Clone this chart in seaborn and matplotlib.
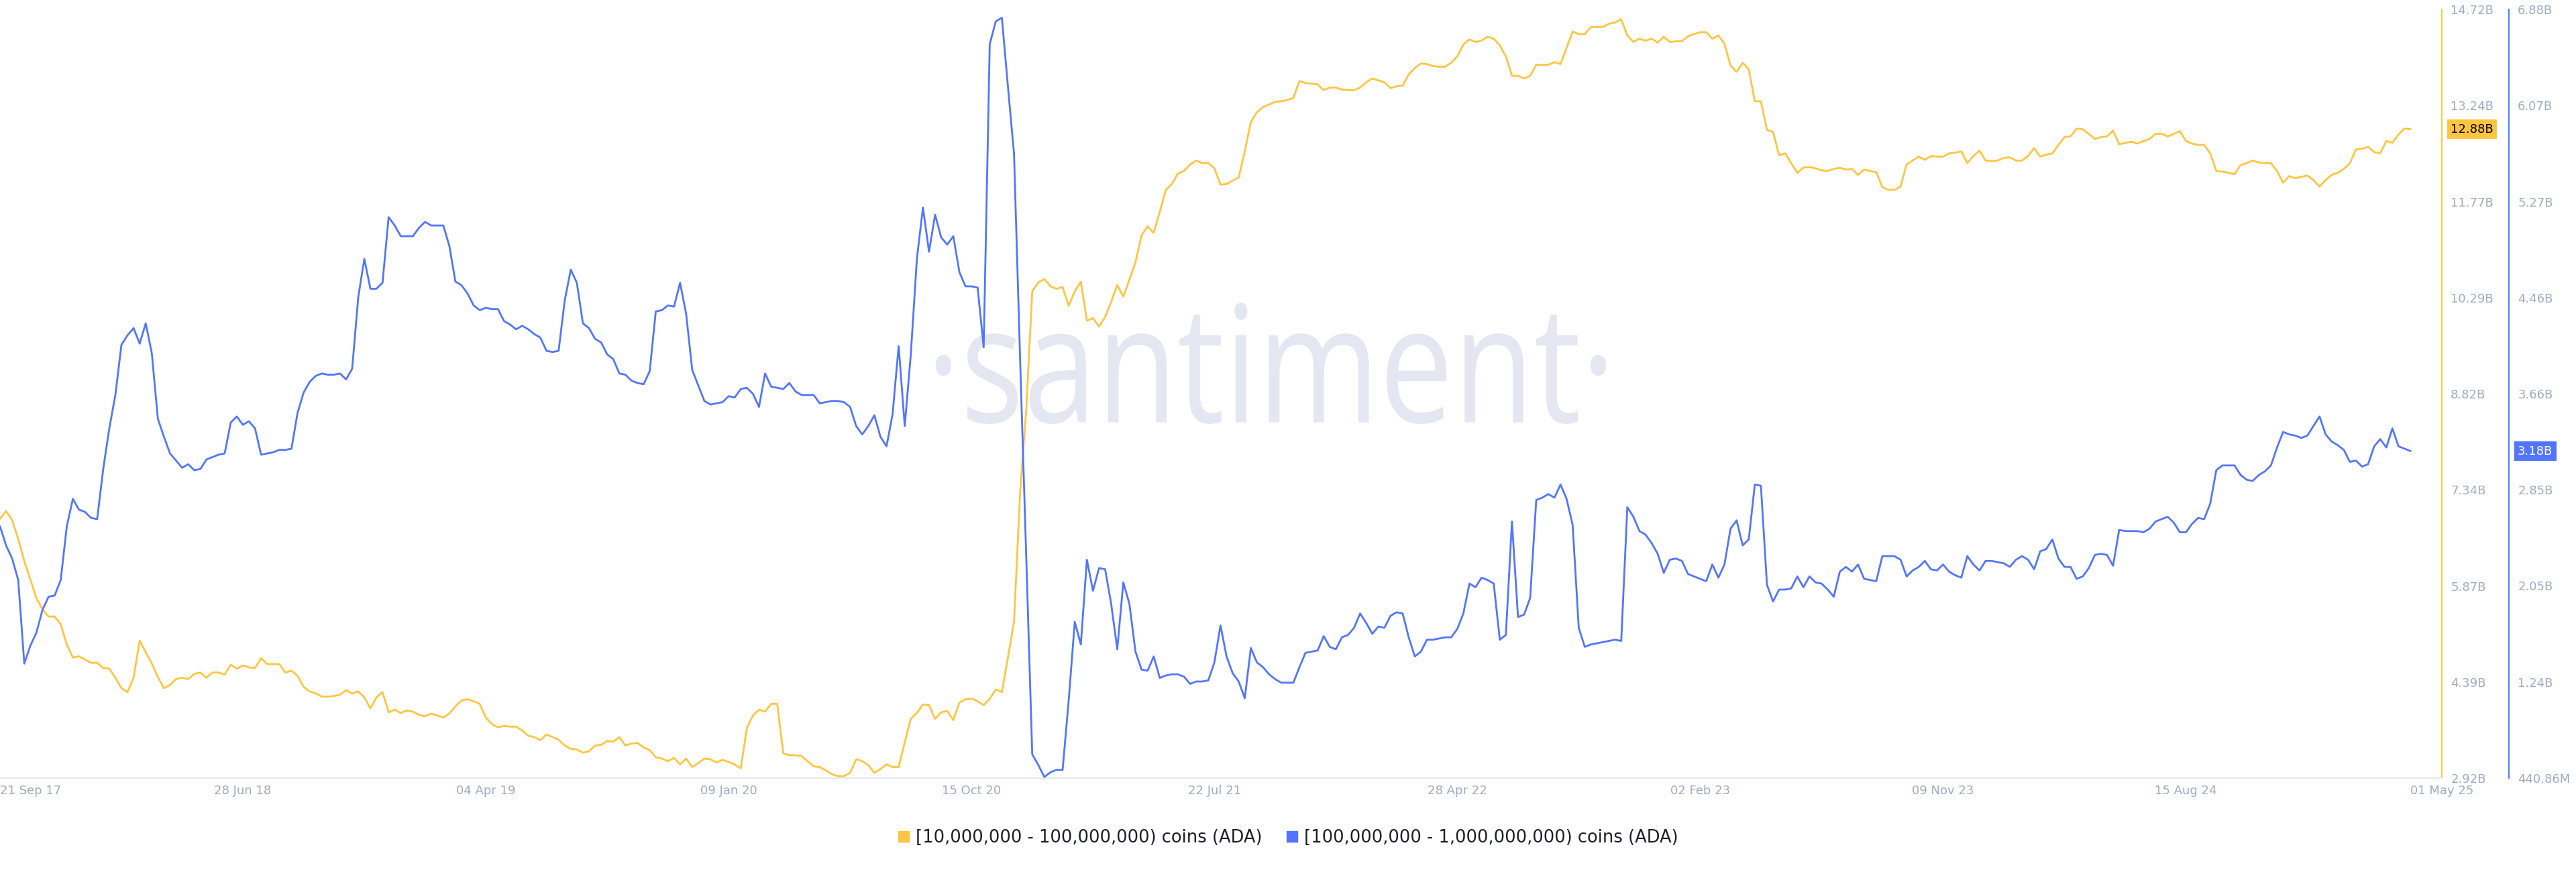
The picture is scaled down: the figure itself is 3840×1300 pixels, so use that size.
# ADA supply distribution - two holder cohorts (weekly)
import pandas as pd
import numpy as np
import matplotlib
matplotlib.use("Agg")
import matplotlib.pyplot as plt
import matplotlib.transforms as mtransforms
from matplotlib.lines import Line2D
from matplotlib.textpath import TextPath
from matplotlib.patches import PathPatch
from matplotlib.font_manager import FontProperties
import seaborn as sns

# data (billions of ADA, one value per week from 21 Sep 2017)
start_date = "2017-09-21"
view_end = "2025-06-06"

yellow_label = "[10,000,000 - 100,000,000) coins (ADA)"
blue_label = "[100,000,000 - 1,000,000,000) coins (ADA)"

yellow_vals = [
    6.90, 7.02, 6.88, 6.59, 6.25, 5.97, 5.68, 5.51, 5.40, 5.40,
    5.28, 4.97, 4.77, 4.79, 4.74, 4.69, 4.69, 4.61, 4.60, 4.46,
    4.30, 4.24, 4.46, 5.03, 4.85, 4.68, 4.47, 4.30, 4.35, 4.44,
    4.46, 4.44, 4.52, 4.54, 4.46, 4.54, 4.54, 4.51, 4.66, 4.60,
    4.65, 4.62, 4.61, 4.76, 4.67, 4.67, 4.67, 4.54, 4.57, 4.49,
    4.32, 4.25, 4.22, 4.17, 4.17, 4.18, 4.20, 4.27, 4.22, 4.25,
    4.16, 3.99, 4.16, 4.24, 3.93, 3.97, 3.92, 3.96, 3.94, 3.89,
    3.87, 3.91, 3.88, 3.85, 3.91, 4.02, 4.11, 4.13, 4.10, 4.06,
    3.85, 3.75, 3.70, 3.72, 3.71, 3.71, 3.65, 3.57, 3.55, 3.50,
    3.59, 3.55, 3.51, 3.42, 3.37, 3.36, 3.31, 3.33, 3.42, 3.43,
    3.49, 3.48, 3.55, 3.42, 3.45, 3.46, 3.39, 3.35, 3.24, 3.22,
    3.18, 3.23, 3.13, 3.22, 3.09, 3.15, 3.22, 3.21, 3.16, 3.20,
    3.17, 3.13, 3.07, 3.69, 3.88, 3.97, 3.94, 4.06, 4.06, 3.30,
    3.27, 3.27, 3.26, 3.18, 3.10, 3.09, 3.04, 2.98, 2.95, 2.95,
    3.00, 3.21, 3.18, 3.12, 3.00, 3.06, 3.13, 3.09, 3.09, 3.47,
    3.83, 3.92, 4.05, 4.04, 3.83, 3.93, 3.95, 3.81, 4.08, 4.13,
    4.14, 4.10, 4.04, 4.14, 4.28, 4.24, 4.77, 5.32, 7.30, 8.56,
    10.39, 10.53, 10.58, 10.47, 10.43, 10.46, 10.17, 10.39, 10.54, 9.94,
    9.98, 9.85, 10.00, 10.23, 10.49, 10.31, 10.57, 10.84, 11.25, 11.39,
    11.29, 11.61, 11.95, 12.04, 12.20, 12.24, 12.34, 12.40, 12.36, 12.36,
    12.28, 12.03, 12.04, 12.09, 12.14, 12.54, 12.99, 13.14, 13.22, 13.26,
    13.30, 13.31, 13.33, 13.36, 13.62, 13.59, 13.58, 13.57, 13.48, 13.52,
    13.52, 13.49, 13.48, 13.48, 13.52, 13.60, 13.66, 13.63, 13.60, 13.51,
    13.54, 13.55, 13.72, 13.82, 13.89, 13.88, 13.85, 13.84, 13.84, 13.90,
    14.00, 14.18, 14.26, 14.22, 14.24, 14.30, 14.27, 14.17, 14.00, 13.70,
    13.70, 13.66, 13.70, 13.87, 13.87, 13.87, 13.91, 13.88, 14.13, 14.38,
    14.34, 14.34, 14.45, 14.45, 14.45, 14.50, 14.52, 14.57, 14.32, 14.22,
    14.27, 14.24, 14.27, 14.21, 14.30, 14.22, 14.23, 14.23, 14.31, 14.34,
    14.37, 14.37, 14.27, 14.32, 14.19, 13.86, 13.76, 13.90, 13.80, 13.31,
    13.31, 12.87, 12.84, 12.48, 12.51, 12.36, 12.21, 12.29, 12.30, 12.28,
    12.25, 12.24, 12.27, 12.29, 12.26, 12.27, 12.18, 12.26, 12.24, 12.22,
    11.99, 11.95, 11.95, 12.00, 12.34, 12.40, 12.46, 12.41, 12.47, 12.46,
    12.46, 12.51, 12.52, 12.54, 12.36, 12.47, 12.55, 12.40, 12.39, 12.40,
    12.44, 12.45, 12.40, 12.40, 12.47, 12.59, 12.46, 12.49, 12.51, 12.64,
    12.76, 12.77, 12.89, 12.88, 12.81, 12.73, 12.76, 12.77, 12.86, 12.65,
    12.67, 12.69, 12.66, 12.70, 12.73, 12.81, 12.81, 12.77, 12.81, 12.85,
    12.70, 12.66, 12.64, 12.64, 12.51, 12.24, 12.23, 12.21, 12.19, 12.33,
    12.36, 12.40, 12.37, 12.36, 12.36, 12.24, 12.06, 12.16, 12.13, 12.15,
    12.17, 12.10, 12.00, 12.10, 12.18, 12.21, 12.27, 12.36, 12.57, 12.58,
    12.61, 12.53, 12.51, 12.70, 12.67, 12.80, 12.89, 12.88,
]

blue_vals = [
    2.55, 2.39, 2.28, 2.10, 1.40, 1.55, 1.66, 1.85, 1.96, 1.97,
    2.10, 2.55, 2.78, 2.69, 2.67, 2.62, 2.61, 3.03, 3.37, 3.65,
    4.07, 4.15, 4.21, 4.08, 4.25, 4.00, 3.45, 3.30, 3.16, 3.10,
    3.04, 3.07, 3.02, 3.03, 3.11, 3.13, 3.15, 3.16, 3.42, 3.47,
    3.40, 3.43, 3.37, 3.15, 3.16, 3.17, 3.19, 3.19, 3.20, 3.50,
    3.67, 3.76, 3.81, 3.83, 3.82, 3.82, 3.83, 3.78, 3.87, 4.47,
    4.79, 4.54, 4.54, 4.59, 5.14, 5.07, 4.98, 4.98, 4.98, 5.05,
    5.10, 5.07, 5.07, 5.07, 4.90, 4.60, 4.57, 4.50, 4.40, 4.36,
    4.38, 4.37, 4.37, 4.27, 4.24, 4.20, 4.23, 4.20, 4.16, 4.13,
    4.02, 4.01, 4.02, 4.44, 4.70, 4.59, 4.25, 4.21, 4.12, 4.09,
    3.99, 3.95, 3.83, 3.82, 3.77, 3.75, 3.74, 3.85, 4.35, 4.36,
    4.40, 4.39, 4.59, 4.33, 3.86, 3.73, 3.60, 3.57, 3.58, 3.59,
    3.64, 3.63, 3.70, 3.71, 3.66, 3.55, 3.83, 3.72, 3.71, 3.70,
    3.75, 3.68, 3.65, 3.65, 3.65, 3.58, 3.59, 3.60, 3.60, 3.59,
    3.55, 3.39, 3.32, 3.39, 3.48, 3.30, 3.22, 3.49, 4.06, 3.39,
    3.99, 4.79, 5.22, 4.85, 5.16, 4.97, 4.91, 4.98, 4.68, 4.56,
    4.56, 4.55, 4.05, 6.59, 6.78, 6.81, 6.23, 5.67, 3.95, 2.31,
    0.64, 0.55, 0.45, 0.49, 0.51, 0.51, 1.09, 1.75, 1.56, 2.27,
    2.01, 2.20, 2.19, 1.90, 1.52, 2.08, 1.90, 1.50, 1.35, 1.34,
    1.46, 1.28, 1.30, 1.31, 1.31, 1.29, 1.23, 1.25, 1.25, 1.26,
    1.41, 1.72, 1.46, 1.32, 1.25, 1.11, 1.53, 1.41, 1.37, 1.31,
    1.27, 1.24, 1.24, 1.24, 1.37, 1.49, 1.50, 1.51, 1.63, 1.54,
    1.52, 1.62, 1.64, 1.70, 1.82, 1.74, 1.65, 1.71, 1.70, 1.80,
    1.83, 1.82, 1.62, 1.46, 1.50, 1.60, 1.60, 1.61, 1.62, 1.62,
    1.69, 1.82, 2.07, 2.04, 2.12, 2.10, 2.07, 1.60, 1.64, 2.59,
    1.79, 1.81, 1.95, 2.77, 2.79, 2.82, 2.79, 2.90, 2.78, 2.56,
    1.70, 1.54, 1.56, 1.57, 1.58, 1.59, 1.60, 1.59, 2.71, 2.63,
    2.51, 2.48, 2.41, 2.32, 2.16, 2.27, 2.28, 2.26, 2.15, 2.13,
    2.11, 2.09, 2.23, 2.12, 2.23, 2.53, 2.60, 2.39, 2.44, 2.90,
    2.89, 2.06, 1.92, 2.02, 2.02, 2.03, 2.13, 2.04, 2.13, 2.08,
    2.07, 2.02, 1.96, 2.17, 2.21, 2.17, 2.23, 2.11, 2.10, 2.09,
    2.30, 2.30, 2.30, 2.27, 2.13, 2.18, 2.21, 2.26, 2.19, 2.18,
    2.23, 2.17, 2.14, 2.12, 2.30, 2.23, 2.18, 2.26, 2.26, 2.25,
    2.24, 2.21, 2.27, 2.30, 2.27, 2.19, 2.34, 2.36, 2.44, 2.28,
    2.21, 2.21, 2.11, 2.13, 2.20, 2.31, 2.32, 2.31, 2.22, 2.52,
    2.51, 2.51, 2.51, 2.50, 2.53, 2.59, 2.61, 2.63, 2.58, 2.50,
    2.50, 2.57, 2.62, 2.61, 2.74, 3.02, 3.06, 3.06, 3.06, 2.98,
    2.94, 2.93, 2.98, 3.01, 3.06, 3.21, 3.34, 3.32, 3.31, 3.29,
    3.31, 3.39, 3.47, 3.32, 3.26, 3.23, 3.19, 3.09, 3.10, 3.05,
    3.07, 3.22, 3.28, 3.21, 3.37, 3.22, 3.20, 3.18,
]

# axis ranges and labels as shown on the chart
yellow_range = (2.92, 14.72)
blue_range = (0.44086, 6.88)
yellow_tick_labels = ["2.92B", "4.39B", "5.87B", "7.34B", "8.82B",
                      "10.29B", "11.77B", "13.24B", "14.72B"]
blue_tick_labels = ["440.86M", "1.24B", "2.05B", "2.85B", "3.66B",
                    "4.46B", "5.27B", "6.07B", "6.88B"]

x_tick_dates = ["2017-09-21", "2018-06-28", "2019-04-04", "2020-01-09",
                "2020-10-15", "2021-07-22", "2022-04-28", "2023-02-02",
                "2023-11-09", "2024-08-15", "2025-05-01"]
x_tick_labels = ["21 Sep 17", "28 Jun 18", "04 Apr 19", "09 Jan 20",
                 "15 Oct 20", "22 Jul 21", "28 Apr 22", "02 Feb 23",
                 "09 Nov 23", "15 Aug 24", "01 May 25"]

# colours
YELLOW = "#ffc542"
BLUE = "#5275ff"
GREY = "#9faac4"
AXIS_LINE = "#e3e7ef"
WATERMARK = "#e4e7f1"

sns.set_style("white")
plt.rcParams["font.family"] = ["DejaVu Sans"]

dates = pd.date_range(start_date, periods=len(yellow_vals), freq="7D")
df = pd.DataFrame({"date": dates, "yellow": yellow_vals, "blue": blue_vals})

W, H = 3840, 1300
fig = plt.figure(figsize=(W / 100, H / 100), dpi=100)
fig.patch.set_facecolor("white")
ax = fig.add_axes([0, 140 / H, 3640 / W, 1146 / H])
ax2 = ax.twinx()

sns.lineplot(data=df, x="date", y="yellow", ax=ax, color=YELLOW, linewidth=2.0)
sns.lineplot(data=df, x="date", y="blue", ax=ax2, color=BLUE, linewidth=2.0)

ax.set_xlim(pd.Timestamp(start_date), pd.Timestamp(view_end))
ax.set_ylim(*yellow_range)
ax2.set_ylim(*blue_range)
for a in (ax, ax2):
    a.set_xlabel("")
    a.set_ylabel("")
    a.grid(False)

# y axes, both on the right
ax.yaxis.tick_right()
ax.set_yticks(np.linspace(*yellow_range, 9))
ax.set_yticklabels(yellow_tick_labels)
ax2.set_yticks(np.linspace(*blue_range, 9))
ax2.set_yticklabels(blue_tick_labels)
for a in (ax, ax2):
    a.tick_params(axis="y", length=0, pad=9.5, labelsize=13, labelcolor=GREY,
                  left=False, labelleft=False, right=True, labelright=True)

# x axis
ax.set_xticks(pd.to_datetime(x_tick_dates))
ax.set_xticklabels(x_tick_labels)
ax.tick_params(axis="x", length=0, pad=7, labelsize=13, labelcolor=GREY)
xlabels = ax.get_xticklabels()
xlabels[0].set_ha("left")
xlabels[-1].set_ha("left")

# spines
for s in ("top", "left"):
    ax.spines[s].set_visible(False)
ax.spines["bottom"].set_color(AXIS_LINE)
ax.spines["bottom"].set_linewidth(1.5)
ax.spines["right"].set_color(YELLOW)
ax.spines["right"].set_linewidth(1.4)
for s in ("top", "left", "bottom"):
    ax2.spines[s].set_visible(False)
ax2.spines["right"].set_position(("axes", 3740 / 3640))
ax2.spines["right"].set_color(BLUE)
ax2.spines["right"].set_linewidth(1.4)

# last value badges
ax.annotate(f"{yellow_vals[-1]:.2f}B", xy=(1, yellow_vals[-1]),
            xycoords=ax.get_yaxis_transform(), xytext=(13, 0),
            textcoords="offset pixels", ha="left", va="center",
            fontsize=13, color="black", annotation_clip=False,
            bbox=dict(boxstyle="square,pad=0.3", fc=YELLOW, ec="none"))
ax2.annotate(f"{blue_vals[-1]:.2f}B", xy=(3740 / 3640, blue_vals[-1]),
             xycoords=ax2.get_yaxis_transform(), xytext=(13, 0),
             textcoords="offset pixels", ha="left", va="center",
             fontsize=13, color="white", annotation_clip=False,
             bbox=dict(boxstyle="square,pad=0.3", fc=BLUE, ec="none"))

# watermark, squeezed to the narrow shape of the original
tp = TextPath((0, 0), "·santiment·", size=100,
              prop=FontProperties(family="Open Sans"))
bb = tp.get_extents()
wm_left, wm_bottom, wm_w, wm_h = 1395, 668, 999, 181
wm_trans = (mtransforms.Affine2D()
            .translate(-bb.x0, -bb.y0)
            .scale(wm_w / bb.width, wm_h / bb.height)
            .translate(wm_left, wm_bottom)
            .scale(1 / W, 1 / H) + fig.transFigure)
ax.add_patch(PathPatch(tp, facecolor=WATERMARK, edgecolor="none",
                       transform=wm_trans, zorder=0))
ax.set_xlim(pd.Timestamp(start_date), pd.Timestamp(view_end))
ax.set_ylim(*yellow_range)

# legend
handles = [Line2D([], [], marker="s", ls="none", color=YELLOW, markersize=12),
           Line2D([], [], marker="s", ls="none", color=BLUE, markersize=12)]
fig.legend(handles, [yellow_label, blue_label], loc="center",
           bbox_to_anchor=(0.5, 51 / H), ncol=2, frameon=False, fontsize=18.5,
           handlelength=0.7, handletextpad=0.35, columnspacing=1.4,
           labelcolor="#1c1f2a")

fig.savefig("out.png", dpi=100, facecolor="white")
